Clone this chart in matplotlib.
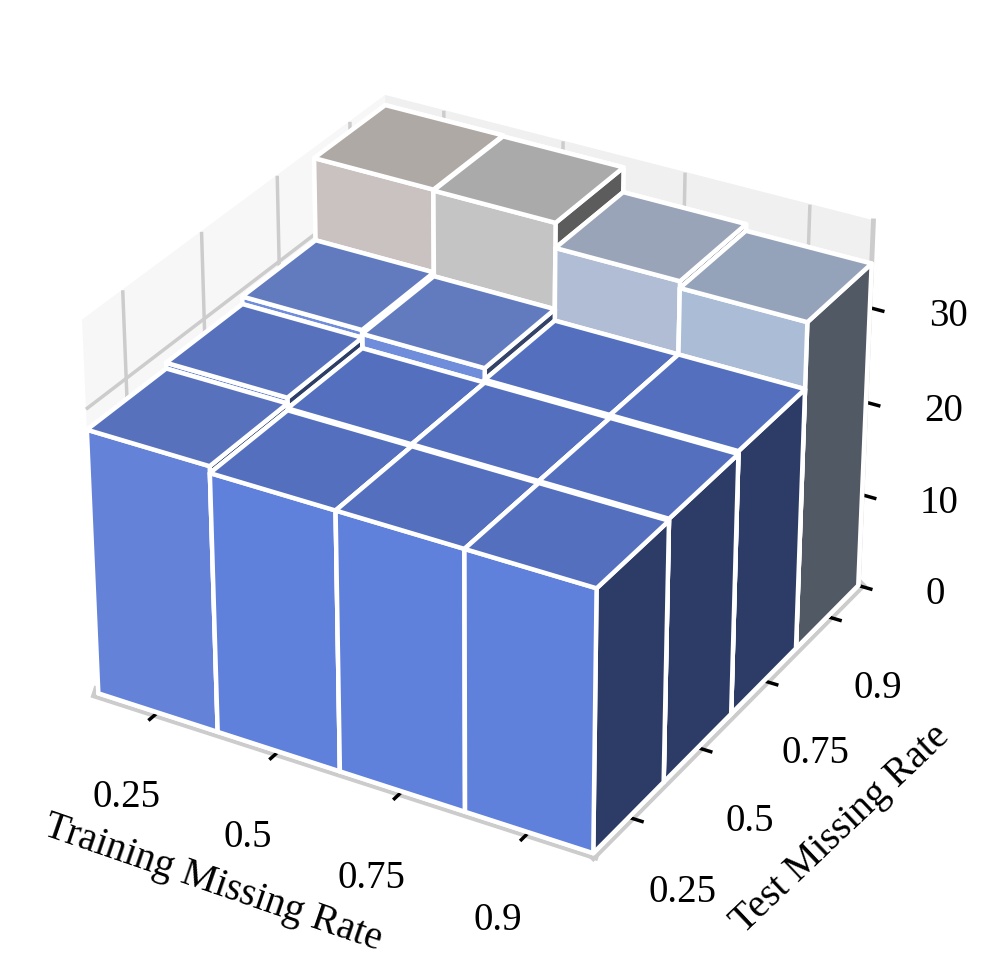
import numpy as np
import matplotlib
matplotlib.use("Agg")
import matplotlib.pyplot as plt
from matplotlib.transforms import ScaledTranslation

plt.rcParams['font.family'] = ['Liberation Serif', 'DejaVu Serif']

train_labels = ['0.25', '0.5', '0.75', '0.9']
test_labels = ['0.25', '0.5', '0.75', '0.9']
z_ticks = [0, 10, 20, 30]

# rows = test missing rate, columns = training missing rate
heights = np.array([
    [27.9, 27.2, 27.2, 27.2],
    [28.5, 27.4, 27.4, 27.4],
    [29.3, 28.9, 27.7, 27.7],
    [38.0, 37.9, 35.3, 34.6],
])
colors = [
    ['#7194f5', '#6c91f8', '#6c91f8', '#6c91f8'],
    ['#7194f5', '#6c91f8', '#6c91f8', '#6c91f8'],
    ['#7ea0f8', '#7ea0f8', '#6c91f8', '#6c91f8'],
    ['#e4dcd9', '#dedede', '#c8d6f0', '#c2d5f2'],
]

fig = plt.figure(figsize=(9.97, 9.70), dpi=100)
ax = fig.add_axes([-0.027, 0.0134, 1, 1], projection='3d')

for i in range(4):
    for j in range(4):
        ax.bar3d(j, i, 0, 1, 1, heights[i][j], color=colors[i][j],
                 edgecolor='white', linewidth=3.2, shade=True)

ax.view_init(elev=30, azim=-60)
ax.set_xlim(0, 4)
ax.set_ylim(0, 4)
ax.set_zlim(0, 39)
ax.set_box_aspect((4, 4, 3), zoom=0.909)

ax.set_xticks([0.5, 1.5, 2.5, 3.5])
ax.set_xticklabels(train_labels)
ax.set_yticks([0.5, 1.5, 2.5, 3.5])
ax.set_yticklabels(test_labels)
ax.set_zticks(z_ticks)
ax.tick_params(labelsize=28, pad=30)

# z labels sit a little higher than the default anchor
lift = ScaledTranslation(0, 13 / 100, fig.dpi_scale_trans)
for tick in ax.zaxis.get_major_ticks():
    tick.label1.set_transform(tick.label1.get_transform() + lift)

ax.xaxis.set_pane_color((0.97, 0.97, 0.97, 1))
ax.yaxis.set_pane_color((0.94, 0.94, 0.94, 1))
ax.zaxis.set_pane_color((1, 1, 1, 0))
for axis in (ax.xaxis, ax.yaxis, ax.zaxis):
    axis.line.set_color('#cccccc')
    axis.line.set_linewidth(9)
    axis._axinfo['grid']['color'] = '#cccccc'
    axis._axinfo['grid']['linewidth'] = 2.5
    axis._axinfo['tick']['linewidth'] = {True: 2.5, False: 1}
    axis._axinfo['tick']['outward_factor'] = 0
    axis._axinfo['tick']['inward_factor'] = 0.32
ax.zaxis.line.set_linewidth(3.5)

fig.text(213 / 997, 1 - 883 / 970, 'Training Missing Rate', fontsize=28.5,
         rotation=-19, ha='center', va='center', rotation_mode='anchor')
fig.text(841 / 997, 1 - 829 / 970, 'Test Missing Rate', fontsize=28.5,
         rotation=43.5, ha='center', va='center', rotation_mode='anchor')

fig.savefig('out.png', dpi=100)
